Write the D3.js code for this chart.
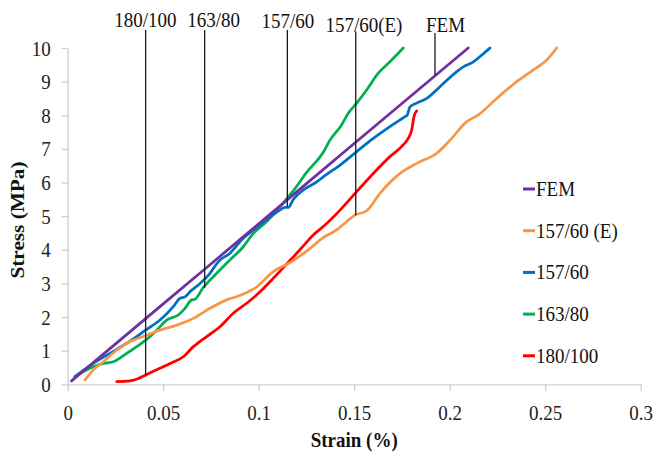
<!DOCTYPE html>
<html><head><meta charset="utf-8">
<script src="https://cdn.jsdelivr.net/npm/d3@7"></script>
<style>
html,body{margin:0;padding:0;background:#fff;}
svg{display:block;}
svg text{font-family:"Liberation Serif","Times New Roman","DejaVu Serif",serif !important;}
</style>
</head><body><svg id="chart" width="655" height="453"></svg>
<script>
// ---------------- data ----------------
const xTicks = [0, 0.05, 0.1, 0.15, 0.2, 0.25, 0.3];
const yTicks = [0, 1, 2, 3, 4, 5, 6, 7, 8, 9, 10];
const xTitle = "Strain (%)";
const yTitle = "Stress (MPa)";
const seriesNames = ["FEM", "157/60 (E)", "157/60", "163/80", "180/100"];
const seriesColors = ["#7030A0", "#F79646", "#0070C0", "#00B050", "#FF0000"];

const fem = [[0.002,0.1],[0.05,2.39],[0.1,4.77],[0.15,7.16],[0.2097,10]];
const exp157E = [[0.0091,0.13],[0.0134,0.43],[0.0186,0.67],[0.0257,1.02],[0.0326,1.27],[0.041,1.45],[0.0483,1.61],[0.0571,1.76],[0.0658,1.96],[0.0745,2.26],[0.0832,2.51],[0.0911,2.66],[0.099,2.90],[0.1076,3.35],[0.1164,3.62],[0.1251,3.96],[0.1338,4.36],[0.1408,4.59],[0.1461,4.84],[0.1504,5.03],[0.1565,5.16],[0.1635,5.68],[0.174,6.27],[0.1827,6.57],[0.1932,6.87],[0.2002,7.26],[0.2089,7.81],[0.215,8.01],[0.2246,8.50],[0.2351,9.0],[0.2438,9.35],[0.2508,9.64],[0.256,10.0]];
const s157 = [[0.0038,0.23],[0.0134,0.62],[0.0221,0.92],[0.0309,1.22],[0.041,1.62],[0.0483,1.91],[0.0553,2.31],[0.0588,2.56],[0.0614,2.60],[0.064,2.75],[0.0693,3.0],[0.0745,3.30],[0.0789,3.65],[0.085,3.90],[0.0919,4.34],[0.0972,4.59],[0.1042,4.89],[0.1111,5.18],[0.1138,5.26],[0.1155,5.26],[0.1181,5.5],[0.1234,5.78],[0.1304,6.02],[0.1338,6.17],[0.1426,6.52],[0.1513,6.92],[0.16,7.31],[0.1687,7.66],[0.174,7.86],[0.1766,7.96],[0.1778,8.01],[0.1792,8.25],[0.1827,8.36],[0.188,8.50],[0.1949,8.85],[0.2037,9.30],[0.2071,9.44],[0.2124,9.59],[0.2168,9.79],[0.2211,10.0]];
const s163 = [[0.0038,0.23],[0.0134,0.52],[0.0186,0.62],[0.0239,0.67],[0.0309,0.92],[0.0361,1.12],[0.041,1.32],[0.0466,1.61],[0.0518,1.91],[0.0579,2.06],[0.0614,2.26],[0.0649,2.51],[0.0666,2.53],[0.071,2.88],[0.078,3.30],[0.085,3.70],[0.0919,4.09],[0.0972,4.49],[0.1042,4.84],[0.1111,5.28],[0.1181,5.75],[0.1251,6.3],[0.1338,6.9],[0.1373,7.26],[0.1434,7.71],[0.1469,8.06],[0.1513,8.36],[0.1565,8.75],[0.1626,9.25],[0.1687,9.59],[0.1757,10.0]];
const s180 = [[0.0257,0.08],[0.0326,0.10],[0.036,0.15],[0.041,0.28],[0.0483,0.48],[0.0536,0.62],[0.0605,0.82],[0.0658,1.12],[0.0728,1.42],[0.0797,1.71],[0.0867,2.11],[0.0937,2.41],[0.1007,2.75],[0.1076,3.15],[0.1147,3.58],[0.1216,4.0],[0.1286,4.44],[0.1338,4.69],[0.1426,5.18],[0.1513,5.73],[0.16,6.27],[0.1687,6.77],[0.1757,7.12],[0.1783,7.31],[0.1801,7.56],[0.1813,7.96],[0.1827,8.13]];
const seriesData = [fem, exp157E, s157, s163, s180];

// vertical marker annotations
const annoLabels = ["180/100", "163/80", "157/60", "157/60(E)", "FEM"];
const annoStrain = [0.0408, 0.0717, 0.115, 0.1508, 0.1923];
const annoStress = [0.28, 2.86, 5.28, 5.03, 9.2];
const annoLabelStrain = [0.0407, 0.0764, 0.1153, 0.1551, 0.1978];

// ---------------- layout ----------------
const FONT = "Liberation Serif";
const S = 1.12; // vertical text stretch seen in the reference
const annoLabelBaseline = [27, 27, 28, 32, 32];
const annoLineTop = [30, 30, 30, 31.5, 33];

const svg = d3.select("#chart");
const x = d3.scaleLinear().domain([0, 0.3]).range([67.7, 640.7]);
const y = d3.scaleLinear().domain([0, 10]).range([384.3, 48]);

const axisColor = "#cfcfcf";

// x axis
const gx = svg.append("g").attr("transform", `translate(0,${y(0)})`)
  .call(d3.axisBottom(x).tickValues(xTicks).tickSize(7).tickSizeOuter(0).tickFormat(d => String(d)));
gx.attr("font-family", FONT).attr("font-size", 19);
gx.select(".domain").attr("stroke", axisColor).attr("stroke-width", 1.3);
gx.selectAll(".tick line").attr("stroke", axisColor).attr("stroke-width", 1.3);
gx.selectAll(".tick text")
  .attr("y", null).attr("dy", null)
  .attr("transform", `translate(0,36) scale(1,${S})`)
  .attr("fill", "#222");

// y axis
const gy = svg.append("g").attr("transform", `translate(${x(0)},0)`)
  .call(d3.axisLeft(y).tickValues(yTicks).tickSize(6).tickSizeOuter(0).tickPadding(11).tickFormat(d3.format("d")));
gy.attr("font-family", FONT).attr("font-size", 19);
gy.select(".domain").attr("stroke", axisColor).attr("stroke-width", 1.3);
gy.selectAll(".tick line").attr("stroke", axisColor).attr("stroke-width", 1.3);
gy.selectAll(".tick text")
  .attr("dy", null)
  .attr("transform", `translate(0,7) scale(1,${S})`)
  .attr("fill", "#222");

// axis titles
svg.append("text").text(xTitle)
  .attr("text-anchor", "middle")
  .attr("transform", `translate(${(x(0) + x(0.3)) / 2},447) scale(1,${S})`)
  .attr("font-family", FONT).attr("font-size", 19).attr("font-weight", "bold").attr("fill", "#111");
svg.append("text").text(yTitle)
  .attr("text-anchor", "middle")
  .attr("transform", `translate(24,220) rotate(-90) scale(${S},1)`)
  .attr("font-family", FONT).attr("font-size", 19).attr("font-weight", "bold").attr("fill", "#111");

// series lines
const line = d3.line().x(d => x(d[0])).y(d => y(d[1])).curve(d3.curveMonotoneX);
svg.append("g").selectAll("path")
  .data(seriesData.map((d, i) => ({d, i})).reverse())
  .join("path")
  .attr("d", o => line(o.d))
  .attr("fill", "none")
  .attr("stroke", o => seriesColors[o.i])
  .attr("stroke-width", 2.75)
  .attr("stroke-linejoin", "round")
  .attr("stroke-linecap", "round");

// annotations
const ga = svg.append("g");
ga.selectAll("line").data(annoLabels).join("line")
  .attr("x1", (d, i) => x(annoStrain[i])).attr("x2", (d, i) => x(annoStrain[i]))
  .attr("y1", (d, i) => annoLineTop[i]).attr("y2", (d, i) => y(annoStress[i]))
  .attr("stroke", "#1a1a1a").attr("stroke-width", 1.3);
ga.selectAll("text").data(annoLabels).join("text")
  .text(d => d)
  .attr("text-anchor", "middle")
  .attr("transform", (d, i) => `translate(${x(annoLabelStrain[i])},${annoLabelBaseline[i]}) scale(1,${S})`)
  .attr("font-family", FONT).attr("font-size", 19).attr("fill", "#111");

// legend
const lg = svg.append("g").selectAll("g").data(seriesNames).join("g")
  .attr("transform", (d, i) => `translate(523,${189 + i * 41.7})`);
lg.append("line").attr("x1", 0).attr("x2", 12).attr("y1", 0).attr("y2", 0)
  .attr("stroke", (d, i) => seriesColors[i]).attr("stroke-width", 3);
lg.append("text").text(d => d)
  .attr("transform", `translate(13,7) scale(1,${S})`)
  .attr("font-family", FONT).attr("font-size", 19).attr("fill", "#111");
</script>
</body></html>
